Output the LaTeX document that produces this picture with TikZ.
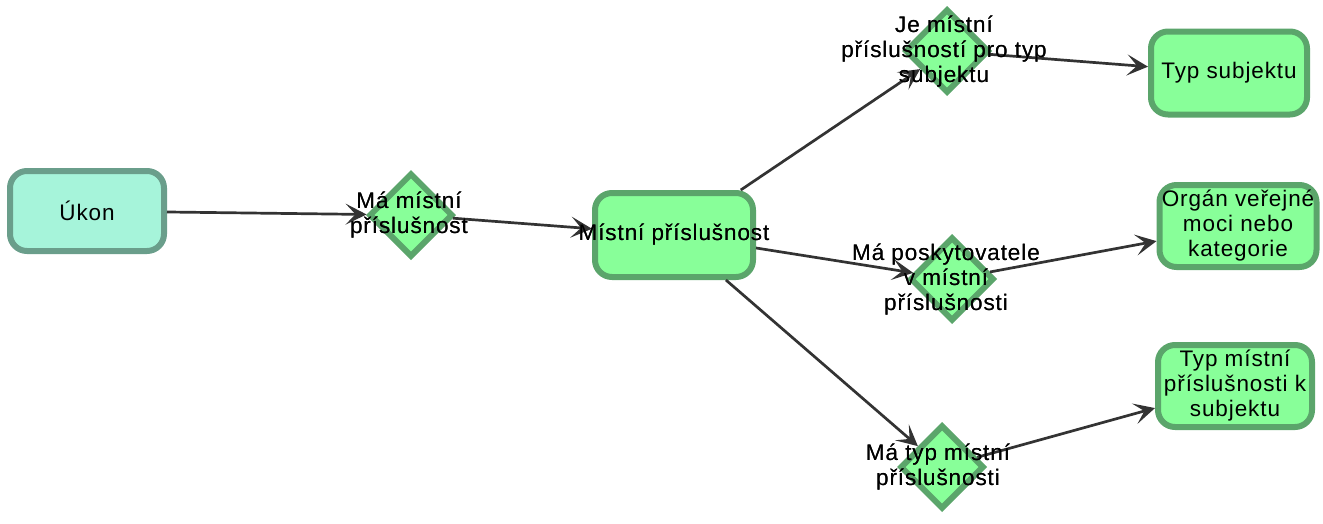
\documentclass[tikz,border=0pt]{standalone}
\usepackage{fontspec}
\setmainfont{Liberation Sans}[LetterSpace=4]
\usetikzlibrary{arrows.meta,shapes.geometric}
\definecolor{gfill}{HTML}{88FF99}
\definecolor{gdraw}{HTML}{5BA56B}
\definecolor{afill}{HTML}{A6F4DA}
\definecolor{adraw}{HTML}{6A9E8B}
\definecolor{conncol}{HTML}{333333}
\tikzset{
  x=1pt, y=-1pt,
  txt/.style={font=\fontsize{22.5}{25}\selectfont, align=center, text=black},
  greenbox/.style={txt, draw=gdraw, fill=gfill, line width=6pt, rounded corners=17pt, inner sep=0pt},
  aquabox/.style={txt, draw=adraw, fill=afill, line width=6pt, rounded corners=17pt, inner sep=0pt, minimum width=154pt, minimum height=80pt},
  decision/.style={diamond, draw=gdraw, fill=gfill, line width=6pt, inner sep=0pt, minimum width=84pt, minimum height=84pt},
  conn/.style={draw=conncol, line width=2.7pt, -{Stealth[length=21pt,width=21pt,inset=10pt]}},
}
\begin{document}
\begin{tikzpicture}
\useasboundingbox (0,0) rectangle (1323,523);
% nodes
\node[aquabox] (ukon) at (87,211) {Úkon};
\node[decision] (d1) at (411,215) {};
\node[txt] (d1t) at (409,215) {Má místní\\příslušnost};
\node[greenbox, minimum width=158pt, minimum height=84pt] (mp) at (674,235) {};
\node[txt] (mpt) at (674,235) {Místní příslušnost};
\node[decision] (d2) at (947,51) {};
\node[txt] (d2t) at (944,52) {Je místní\\příslušností pro typ\\subjektu};
\node[greenbox, minimum width=156pt, minimum height=83pt] (ts) at (1229,73) {Typ subjektu};
\node[decision] (d3) at (952,279) {};
\node[txt] (d3t) at (946,280) {Má poskytovatele\\v místní\\příslušnosti};
\node[greenbox, minimum width=157pt, minimum height=82pt] (ov) at (1238,226) {Orgán veřejné\\moci nebo\\kategorie};
\node[decision] (d4) at (942,467) {};
\node[txt] (d4t) at (938,467) {Má typ místní\\příslušnosti};
\node[greenbox, minimum width=154pt, minimum height=82pt] (tm) at (1235,386) {Typ místní\\příslušnosti k\\subjektu};
% connectors
\draw[conn] (ukon) -- (d1);
\draw[conn] (d1) -- (mp);
\draw[conn] (mp) -- (d2);
\draw[conn] (mp) -- (d3);
\draw[conn] (mp) -- (d4);
\draw[conn] (d2) -- (ts);
\draw[conn] (d3) -- (ov);
\draw[conn] (d4) -- (tm);
% redraw labels on top
\node[txt] at (d1t) {Má místní\\příslušnost};
\node[txt] at (mpt) {Místní příslušnost};
\node[txt] at (d2t) {Je místní\\příslušností pro typ\\subjektu};
\node[txt] at (d3t) {Má poskytovatele\\v místní\\příslušnosti};
\node[txt] at (d4t) {Má typ místní\\příslušnosti};
\end{tikzpicture}
\end{document}
